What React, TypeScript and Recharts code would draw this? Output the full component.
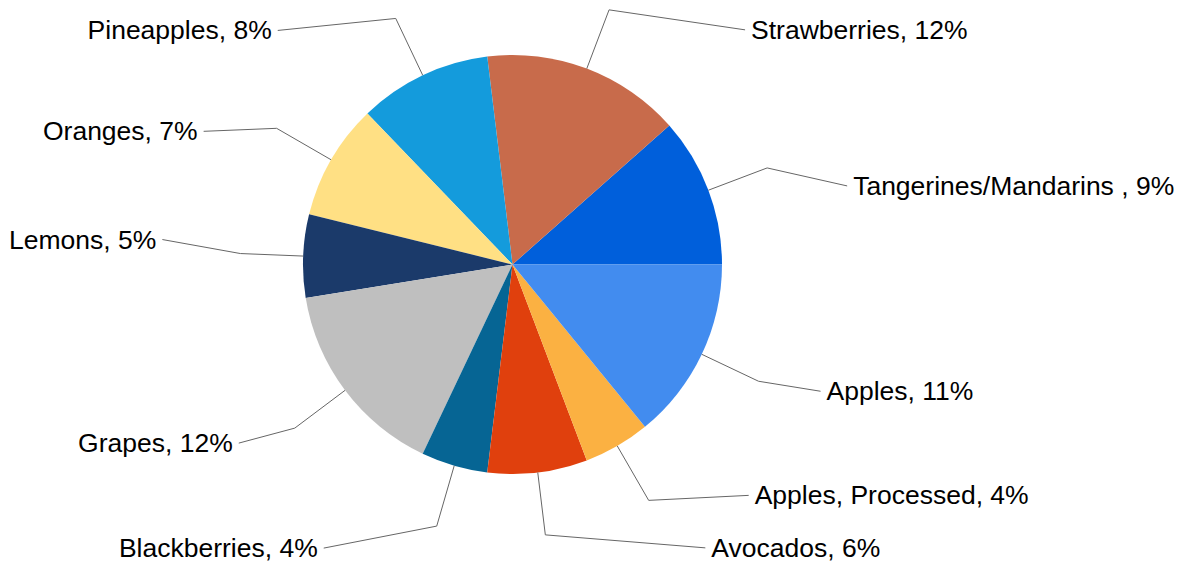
import React from "react";
import { PieChart, Pie, Cell } from "recharts";

const fruits = [
  "Tangerines/Mandarins ",
  "Strawberries",
  "Pineapples",
  "Oranges",
  "Lemons",
  "Grapes",
  "Blackberries",
  "Avocados",
  "Apples, Processed",
  "Apples",
];
const shares = [9, 12, 8, 7, 5, 12, 4, 6, 4, 11];
const colors = [
  "#005fdb",
  "#c86b4b",
  "#149bdc",
  "#ffe084",
  "#1b3a6a",
  "#bfbfbf",
  "#066594",
  "#e0400d",
  "#fbb142",
  "#428cef",
];
// where each label text sits relative to the elbow of its leader line
const labelNudge: [number, number][] = [
  [80, 18],
  [136, 20],
  [-118, 12],
  [-73, 3],
  [-78, -14],
  [-56, 15],
  [-113, 22],
  [160, 13],
  [100, -5],
  [62, 10],
];

const data = fruits.map((name, i) => ({ name, value: shares[i] }));

const RAD = Math.PI / 180;

const renderLabel = (props: any) => {
  const { cx, cy, midAngle, outerRadius, index, name, value } = props;
  const cos = Math.cos(-midAngle * RAD);
  const sin = Math.sin(-midAngle * RAD);
  const sx = cx + outerRadius * cos;
  const sy = cy + outerRadius * sin;
  const ex = cx + outerRadius * 1.3 * cos;
  const ey = cy + outerRadius * 1.3 * sin;
  const [dx, dy] = labelNudge[index];
  const tx = ex + dx;
  const ty = ey + dy;
  const right = dx > 0;
  return (
    <g>
      <polyline
        points={`${sx},${sy} ${ex},${ey} ${tx},${ty}`}
        fill="none"
        stroke="#666"
        strokeWidth={1}
      />
      <text
        x={tx + (right ? 6 : -6)}
        y={ty}
        textAnchor={right ? "start" : "end"}
        dominantBaseline="central"
        fontSize={26.5}
        fontFamily="'Liberation Sans', Arial, sans-serif"
        fill="#000"
      >
        {`${name}, ${value}%`}
      </text>
    </g>
  );
};

export default function App() {
  return (
    <div style={{ width: 1190, height: 565, background: "#fff" }}>
      <style>{`body{margin:0}`}</style>
      <PieChart
        width={1190}
        height={565}
        margin={{ top: 0, right: 0, bottom: 0, left: 0 }}
      >
        <Pie
          data={data}
          dataKey="value"
          nameKey="name"
          cx={512.5}
          cy={264.5}
          outerRadius={209.5}
          startAngle={0}
          endAngle={360}
          stroke="none"
          label={renderLabel}
          labelLine={false}
          isAnimationActive={false}
        >
          {data.map((d, i) => (
            <Cell key={d.name} fill={colors[i]} />
          ))}
        </Pie>
      </PieChart>
    </div>
  );
}
